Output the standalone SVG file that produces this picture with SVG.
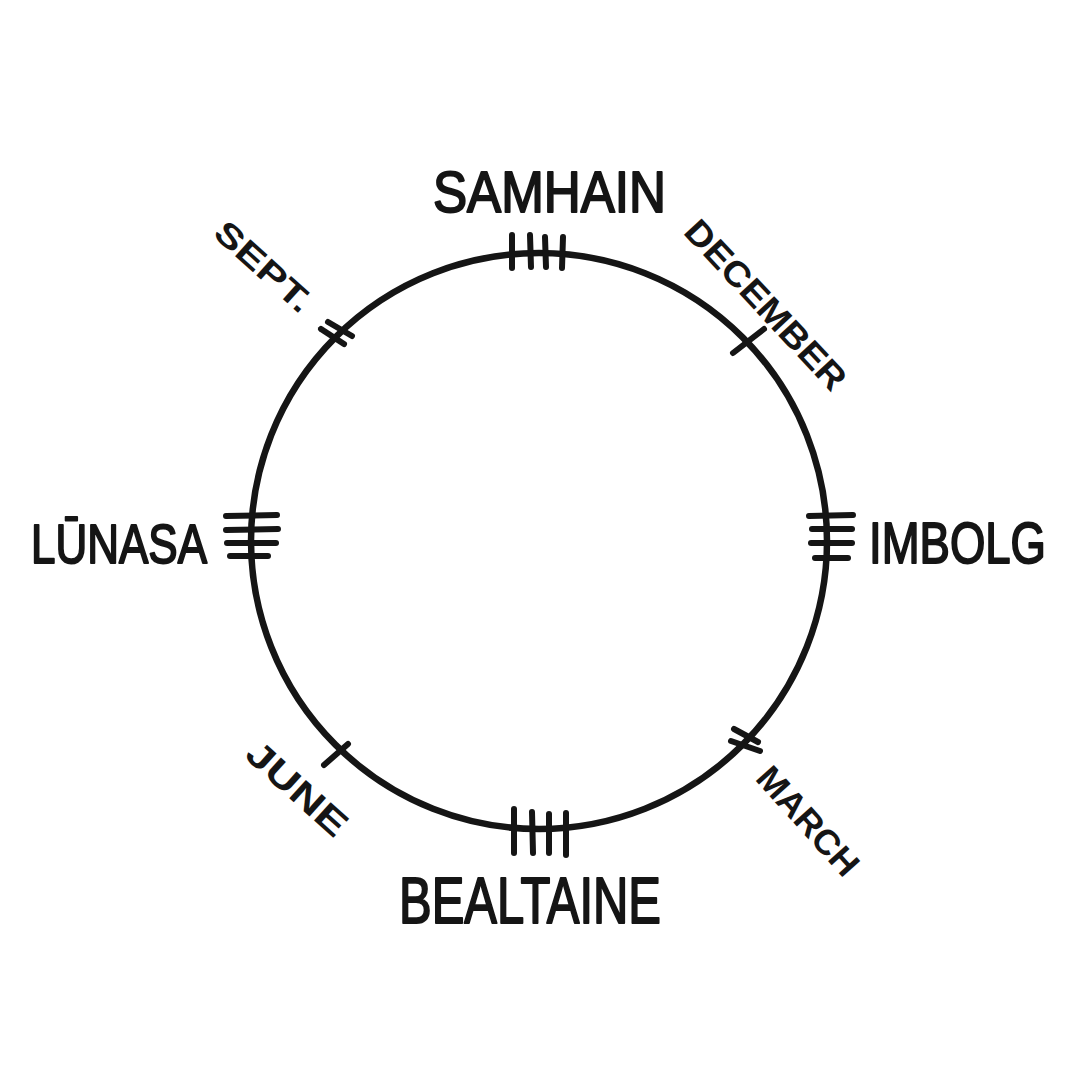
<svg xmlns="http://www.w3.org/2000/svg" width="1080" height="1080" viewBox="0 0 1080 1080">
<style>
.ring{fill:none;stroke:#151515;stroke-width:6.5}
.tick{stroke:#151515;stroke-width:6;stroke-linecap:round;fill:none}
.big{font-family:"Liberation Sans",Arial,sans-serif;fill:#151515;stroke:#151515;stroke-width:2;stroke-linejoin:round}
.small{font-family:"Liberation Sans",Arial,sans-serif;font-weight:700;fill:#151515}
</style>
<rect width="1080" height="1080" fill="#ffffff"/>
<g id="wheel">
<circle class="ring" cx="539" cy="541" r="288"/>
</g>
<g id="samhain">
<line class="tick" x1="512" y1="235" x2="512" y2="268"/>
<line class="tick" x1="530" y1="235" x2="531" y2="267"/>
<line class="tick" x1="545" y1="237" x2="546" y2="267"/>
<line class="tick" x1="563" y1="237" x2="562" y2="268"/>
<text class="big" x="433" y="212" font-size="58" textLength="233" lengthAdjust="spacingAndGlyphs">SAMHAIN</text>
</g>
<g id="december">
<line class="tick" x1="733" y1="353" x2="764" y2="329"/>
<text class="small" font-size="35" text-anchor="middle" textLength="219" lengthAdjust="spacingAndGlyphs" transform="translate(757 313) rotate(47)">DECEMBER</text>
</g>
<g id="imbolg">
<line class="tick" x1="809" y1="516" x2="853" y2="515"/>
<line class="tick" x1="812" y1="529" x2="852" y2="529"/>
<line class="tick" x1="811" y1="543" x2="852" y2="543"/>
<line class="tick" x1="815" y1="558" x2="848" y2="558"/>
<text class="big" x="869" y="563" font-size="58" textLength="177" lengthAdjust="spacingAndGlyphs">IMBOLG</text>
</g>
<g id="march">
<line class="tick" x1="734" y1="729" x2="758" y2="742"/>
<line class="tick" x1="731" y1="741" x2="760" y2="751"/>
<text class="small" font-size="35" text-anchor="middle" textLength="134" lengthAdjust="spacingAndGlyphs" transform="translate(799 829) rotate(48)">MARCH</text>
</g>
<g id="bealtaine">
<line class="tick" x1="514" y1="809" x2="514" y2="853"/>
<line class="tick" x1="532" y1="812" x2="533" y2="853"/>
<line class="tick" x1="549" y1="814" x2="549" y2="853"/>
<line class="tick" x1="566" y1="813" x2="566" y2="855"/>
<text class="big" x="399" y="923" font-size="64" textLength="262" lengthAdjust="spacingAndGlyphs">BEALTAINE</text>
</g>
<g id="june">
<line class="tick" x1="324" y1="765" x2="348" y2="744"/>
<text class="small" font-size="36" text-anchor="middle" textLength="123" lengthAdjust="spacingAndGlyphs" transform="translate(289 798) rotate(42)">JUNE</text>
</g>
<g id="lunasa">
<line class="tick" x1="226" y1="516" x2="277" y2="515"/>
<line class="tick" x1="226" y1="530" x2="278" y2="529"/>
<line class="tick" x1="227" y1="543" x2="276" y2="543"/>
<line class="tick" x1="230" y1="556" x2="268" y2="556"/>
<text class="big" x="31" y="563" font-size="56" textLength="176" lengthAdjust="spacingAndGlyphs">LŪNASA</text>
</g>
<g id="sept">
<line class="tick" x1="328" y1="322" x2="352" y2="336"/>
<line class="tick" x1="321" y1="329" x2="344" y2="344"/>
<text class="small" font-size="33" text-anchor="middle" textLength="119" lengthAdjust="spacingAndGlyphs" transform="translate(256 275) rotate(42)">SEPT.</text>
</g>
</svg>
